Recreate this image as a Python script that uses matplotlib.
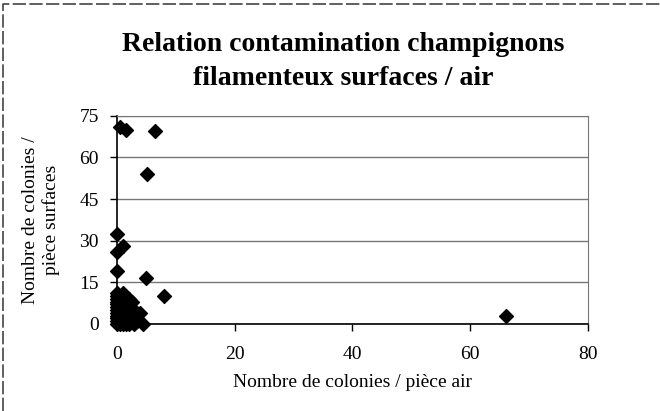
import numpy as np
import matplotlib.pyplot as plt
from matplotlib.lines import Line2D

plt.rcParams['font.family'] = ['Liberation Serif', 'DejaVu Serif']

# Nombre de colonies / pièce air (x) et surfaces (y)
air = [0.5, 1.5, 6.5, 5.2, 0, 0, 1, 0, 5, 8, 66,
       0, 0.5, 1, 1.5, 2, 3, 4.5, 0, 0, 0, 0, 0, 0, 0, 0, 0, 0, 0,
       0.5, 1, 1, 1, 1.5, 2, 2, 2, 2.5, 3, 3, 3.5, 4, 0.5, 1, 2, 1.5, 0.5, 2.5]
surf = [71, 70, 69.5, 54, 32.5, 26, 28, 19, 16.5, 10, 3,
        0, 0, 0, 0, 0, 0, 0, 1, 2, 3, 4, 5, 6, 7, 8, 9, 10, 11,
        2, 3, 5, 8, 6, 2, 4, 7, 1, 3, 5, 1, 4, 10, 11, 9, 1, 6, 8]

xticks = [0, 20, 40, 60, 80]
yticks = [0, 15, 30, 45, 60, 75]

fig = plt.figure(figsize=(6.6, 4.11), dpi=100)
ax = fig.add_axes([0.177, 0.212, 0.714, 0.506])

ax.scatter(air, surf, marker='D', s=50, color='black', zorder=3, clip_on=False)

ax.set_xlim(0, 80)
ax.set_ylim(0, 75)
ax.set_xticks(xticks)
ax.set_yticks(yticks)
ax.tick_params(labelsize=14, direction='out', length=5, width=1, pad=8)
ax.tick_params(axis='x', pad=11)
ax.yaxis.grid(True, color='#777777', linewidth=1)
ax.set_axisbelow(True)
for s in ['top', 'right']:
    ax.spines[s].set_color('#777777')
ax.spines['left'].set_linewidth(1.2)
ax.spines['bottom'].set_linewidth(1.2)

ax.set_xlabel('Nombre de colonies / pièce air', fontsize=14, labelpad=8)
ax.set_ylabel('Nombre de colonies /\npièce surfaces', fontsize=14, labelpad=14)

fig.text(0.52, 0.85, 'Relation contamination champignons\nfilamenteux surfaces / air',
         ha='center', va='center', fontsize=20, fontweight='bold', linespacing=1.45)

# cadre du graphique (haut et gauche)
fig.lines.append(Line2D([0.005, 0.005, 1.0], [0.0, 0.99, 0.99], transform=fig.transFigure,
                        color='#444444', linewidth=1.2, linestyle=(0, (8, 2))))

fig.savefig('out.png', dpi=100)
